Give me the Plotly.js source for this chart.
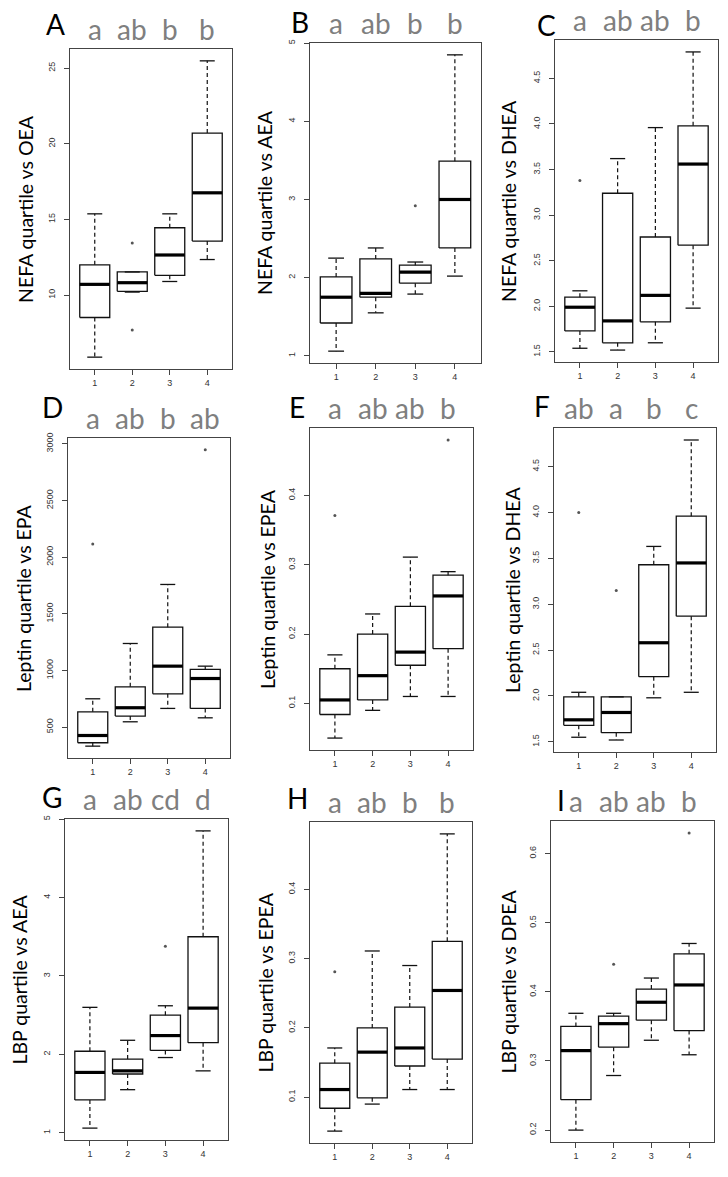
<!DOCTYPE html>
<html>
<head>
<meta charset="utf-8">
<script src="https://cdn.plot.ly/plotly-3.0.1.min.js"></script>
<style>
  html, body { margin: 0; padding: 0; background: #fff; }
  #chart { width: 728px; height: 1177px; }
</style>
</head>
<body>
<div id="chart"></div>
<script>
// quartile groups on the x axis
const groups = [1, 2, 3, 4];
const panelLabels = ['A', 'B', 'C', 'D', 'E', 'F', 'G', 'H', 'I'];
const yTitles = [
  'NEFA quartile vs OEA', 'NEFA quartile vs AEA', 'NEFA quartile vs DHEA',
  'Leptin quartile vs EPA', 'Leptin quartile vs EPEA', 'Leptin quartile vs DHEA',
  'LBP quartile vs AEA', 'LBP quartile vs EPEA', 'LBP quartile vs DPEA',
];
const sigLetters = [
  ['a', 'ab', 'b', 'b'], ['a', 'ab', 'b', 'b'], ['a', 'ab', 'ab', 'b'],
  ['a', 'ab', 'b', 'ab'], ['a', 'ab', 'ab', 'b'], ['ab', 'a', 'b', 'c'],
  ['a', 'ab', 'cd', 'd'], ['a', 'ab', 'b', 'b'], ['a', 'ab', 'ab', 'b'],
];

// box statistics, one row per panel, one value per quartile group
const lowerWhisker = [
  [5.9, 10.2, 10.9, 12.35],
  [1.06, 1.55, 1.79, 2.02],
  [1.54, 1.52, 1.6, 1.98],
  [332, 547, 665, 582],
  [0.05, 0.09, 0.11, 0.11],
  [1.55, 1.52, 1.98, 2.04],
  [1.06, 1.55, 1.96, 1.79],
  [0.051, 0.09, 0.111, 0.111],
  [0.2, 0.279, 0.33, 0.309],
];
const q1 = [
  [8.52, 10.25, 11.31, 13.57],
  [1.42, 1.75, 1.93, 2.38],
  [1.73, 1.6, 1.83, 2.67],
  [362, 597, 794, 665],
  [0.084, 0.105, 0.155, 0.179],
  [1.68, 1.6, 2.21, 2.87],
  [1.42, 1.75, 2.05, 2.15],
  [0.084, 0.099, 0.145, 0.155],
  [0.244, 0.32, 0.359, 0.344],
];
const medians = [
  [10.71, 10.82, 12.65, 16.76],
  [1.75, 1.8, 2.07, 3.0],
  [1.99, 1.84, 2.12, 3.56],
  [426, 671, 1038, 929],
  [0.105, 0.14, 0.174, 0.255],
  [1.74, 1.82, 2.58, 3.45],
  [1.77, 1.79, 2.24, 2.59],
  [0.111, 0.165, 0.171, 0.254],
  [0.315, 0.354, 0.385, 0.41],
];
const q3 = [
  [12.0, 11.53, 14.45, 20.71],
  [2.01, 2.24, 2.16, 3.49],
  [2.1, 3.24, 2.76, 3.98],
  [635, 856, 1382, 1009],
  [0.15, 0.2, 0.24, 0.285],
  [1.99, 1.99, 3.43, 3.96],
  [2.04, 1.94, 2.5, 3.5],
  [0.149, 0.2, 0.23, 0.325],
  [0.35, 0.365, 0.404, 0.455],
];
const upperWhisker = [
  [15.37, 11.53, 15.37, 25.48],
  [2.25, 2.38, 2.2, 4.85],
  [2.17, 3.62, 3.96, 4.79],
  [750, 1238, 1759, 1038],
  [0.17, 0.229, 0.311, 0.29],
  [2.04, 1.99, 3.63, 4.79],
  [2.6, 2.18, 2.62, 4.85],
  [0.171, 0.311, 0.29, 0.48],
  [0.369, 0.369, 0.42, 0.47],
];
const outlierGroup = [[2, 2], [3], [1], [1, 4], [1, 4], [1, 2], [3], [1], [2, 4]];
const outlierValue = [
  [13.45, 7.7], [2.92], [3.38], [2115, 2947], [0.371, 0.48],
  [4.0, 3.15], [3.38], [0.281], [0.44, 0.63],
];
const yTickStep = [5, 1, 0.5, 500, 0.1, 0.5, 1, 0.1, 0.1];
const yTickFormat = ['', '', '.1f', '', '', '.1f', '', '', ''];

// page geometry in pixels: [left, right, top, bottom] of each plot frame
const W = 728;
const H = 1177;
const frames = [
  [70, 232, 49, 369], [310, 481, 43, 363], [555, 718, 40, 362],
  [68, 230, 438, 758], [310, 473, 428, 750], [554, 716, 428, 752],
  [65, 228, 819, 1140], [310, 472, 822, 1143], [551, 714, 821, 1142],
];
const labelPos = [
  [55, 24], [300, 22], [546, 25],
  [52, 407], [297, 407], [542, 406],
  [52, 797], [297, 798], [561, 800],
];
const titleX = [25, 265, 508, 23, 267, 512, 19, 265, 508];

const textFont = 'Lato, "Open Sans", sans-serif';
const tickFont = { family: 'Liberation Sans, Arial, sans-serif', size: 9, color: '#333' };
const frameColor = '#444';
const boxHalf = 0.4;
const capHalf = 0.2;

const data = [];
const layout = {
  width: W,
  height: H,
  margin: { l: 0, r: 0, t: 0, b: 0 },
  paper_bgcolor: '#fff',
  plot_bgcolor: '#fff',
  showlegend: false,
  annotations: [],
};

panelLabels.forEach((label, p) => {
  const s = p === 0 ? '' : String(p + 1);
  const xa = 'x' + s;
  const ya = 'y' + s;
  const [l, r, t, b] = frames[p];

  const whiskX = [], whiskY = [], capX = [], capY = [];
  const boxX = [], boxY = [], medX = [], medY = [];
  groups.forEach((g, i) => {
    const lo = lowerWhisker[p][i], a = q1[p][i], m = medians[p][i], c = q3[p][i], hi = upperWhisker[p][i];
    whiskX.push(g, g, null, g, g, null);
    whiskY.push(c, hi, null, a, lo, null);
    capX.push(g - capHalf, g + capHalf, null, g - capHalf, g + capHalf, null);
    capY.push(hi, hi, null, lo, lo, null);
    boxX.push(g - boxHalf, g + boxHalf, g + boxHalf, g - boxHalf, g - boxHalf, null);
    boxY.push(a, a, c, c, a, null);
    medX.push(g - boxHalf, g + boxHalf, null);
    medY.push(m, m, null);
  });

  data.push({
    x: whiskX, y: whiskY, xaxis: xa, yaxis: ya, mode: 'lines', hoverinfo: 'skip',
    line: { color: '#111', width: 1.2, dash: '4px,3px' },
  });
  data.push({
    x: capX, y: capY, xaxis: xa, yaxis: ya, mode: 'lines', hoverinfo: 'skip',
    line: { color: '#111', width: 1.3 },
  });
  data.push({
    x: boxX, y: boxY, xaxis: xa, yaxis: ya, mode: 'lines', hoverinfo: 'skip',
    line: { color: '#111', width: 1.3 },
  });
  data.push({
    x: medX, y: medY, xaxis: xa, yaxis: ya, mode: 'lines', hoverinfo: 'skip',
    line: { color: '#000', width: 3.2 },
  });
  data.push({
    x: outlierGroup[p], y: outlierValue[p], xaxis: xa, yaxis: ya, mode: 'markers',
    marker: { color: '#555', size: 3 },
  });

  // y range like R: data range padded by 4%
  const all = lowerWhisker[p].concat(upperWhisker[p], outlierValue[p]);
  const mn = Math.min(...all), mx = Math.max(...all);
  const pad = (mx - mn) * 0.04;

  layout['xaxis' + s] = {
    domain: [l / W, r / W],
    anchor: ya,
    range: [0.5 - 0.16, groups.length + 0.5 + 0.16],
    tickvals: groups,
    ticktext: groups.map(String),
    ticks: 'outside', ticklen: 5, tickcolor: frameColor, tickwidth: 1,
    tickfont: tickFont,
    showgrid: false, zeroline: false,
    showline: true, mirror: true, linecolor: frameColor, linewidth: 1.3,
    fixedrange: true,
  };
  layout['yaxis' + s] = {
    domain: [1 - b / H, 1 - t / H],
    anchor: xa,
    range: [mn - pad, mx + pad],
    tick0: 0, dtick: yTickStep[p],
    tickformat: yTickFormat[p],
    tickangle: -90,
    ticks: 'outside', ticklen: 5, tickcolor: frameColor, tickwidth: 1,
    tickfont: tickFont,
    ticklabelstandoff: 5,
    showgrid: false, zeroline: false,
    showline: true, mirror: true, linecolor: frameColor, linewidth: 1.3,
    fixedrange: true,
  };

  // panel letter
  layout.annotations.push({
    text: label, xref: 'paper', yref: 'paper',
    x: labelPos[p][0] / W, y: 1 - labelPos[p][1] / H,
    xanchor: 'center', yanchor: 'middle', showarrow: false,
    font: { family: textFont, size: 28, color: '#000' },
  });
  // y axis title
  layout.annotations.push({
    text: yTitles[p], xref: 'paper', yref: 'paper',
    x: titleX[p] / W, y: 1 - (t + b) / 2 / H,
    xanchor: 'center', yanchor: 'middle', textangle: -90, showarrow: false,
    font: { family: textFont, size: 19.5, color: '#000' },
  });
  // significance letters over each box
  groups.forEach((g, i) => {
    layout.annotations.push({
      text: sigLetters[p][i], xref: xa, yref: ya + ' domain',
      x: g, y: 1, xanchor: 'center', yanchor: 'bottom', yshift: 1, showarrow: false,
      font: { family: textFont, size: 28, color: '#7f7f7f' },
    });
  });
});

Plotly.newPlot('chart', data, layout, { displayModeBar: false, staticPlot: true });
</script>
</body>
</html>
